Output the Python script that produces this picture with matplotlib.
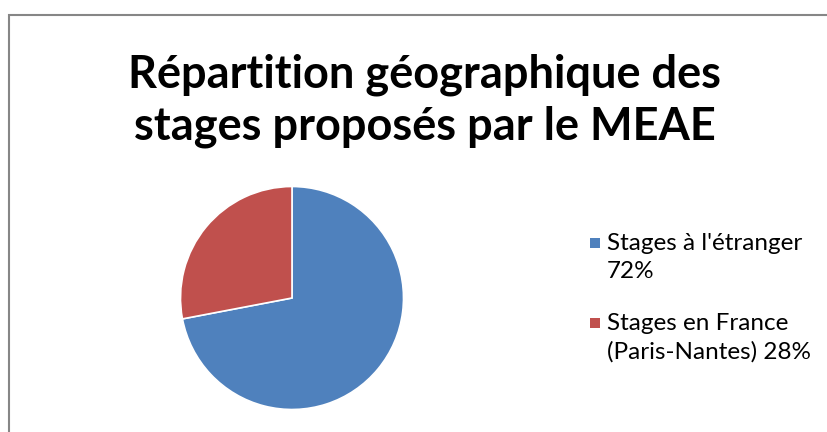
import matplotlib
matplotlib.use("Agg")
from matplotlib import pyplot as plt
from matplotlib.patches import Rectangle

# data
labels = ["Stages à l'étranger\n72%", "Stages en France\n(Paris-Nantes) 28%"]
shares = [72, 28]
colors = ["#4f81bd", "#c0504d"]
title = "Répartition géographique des\nstages proposés par le MEAE"

plt.rcParams['font.family'] = ['Lato', 'DejaVu Sans']

W, H = 828, 432
fig = plt.figure(figsize=(W / 100, H / 100), dpi=100)

# chart area border (Excel style, runs off the right/bottom edge)
fig.patches.append(Rectangle((8.5 / W, -0.1), 1.0, (H - 15) / H + 0.1,
                             transform=fig.transFigure, fill=False,
                             edgecolor="#868686", linewidth=1.5))

# baseline of the second title line
fig.text(425 / W, 1 - 139 / H, title, ha="center", va="baseline",
         fontsize=32.5, fontweight="bold", linespacing=1.27)

# pie, centre ~ (292, 298) px, radius ~111 px
cx, cy, r = 292, H - 298, 111.5
ax = fig.add_axes([(cx - r) / W, (cy - r) / H, 2 * r / W, 2 * r / H])
ax.pie(shares, colors=colors, startangle=90, counterclock=False,
       wedgeprops=dict(edgecolor="white", linewidth=1.2))
ax.set_xlim(-1, 1)
ax.set_ylim(-1, 1)
ax.set_aspect("equal")

# legend drawn by hand so the square sits on the first text line
tops = [233, 313]
for lab, col, top in zip(labels, colors, tops):
    fig.patches.append(Rectangle((590 / W, 1 - (top + 15) / H), 10 / W, 10 / H,
                                 transform=fig.transFigure, facecolor=col,
                                 edgecolor="none"))
    fig.text(607 / W, 1 - top / H, lab, ha="left", va="top",
             fontsize=17.5, linespacing=1.42)

fig.savefig("out.png", dpi=100)
